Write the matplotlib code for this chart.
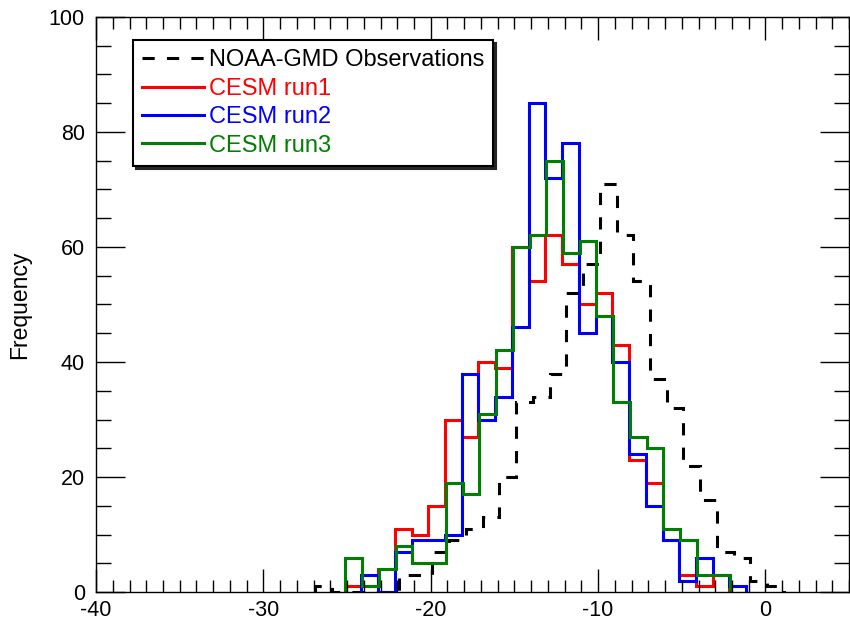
import numpy as np
import matplotlib
matplotlib.use("Agg")
import matplotlib.pyplot as plt
from matplotlib.ticker import MultipleLocator

plt.rcParams["font.family"] = ["Liberation Sans", "DejaVu Sans"]
plt.rcParams["axes.unicode_minus"] = False

# histogram counts, bin width 1; first left edge per series
obs_start = -26.9
obs_counts = [1, 0, 0, 0, 0, 3, 3, 7, 9, 11, 13, 20, 33, 34, 38, 52, 57,
              71, 62, 54, 37, 32, 22, 16, 7, 6, 2, 1]
run1_start = -25.15
run1_counts = [1, 1, 4, 11, 10, 15, 30, 27, 40, 39, 60, 54, 62, 57, 50, 52,
               43, 23, 19, 9, 3, 1, 3]
run2_start = -24.15
run2_counts = [3, 0, 7, 9, 9, 10, 38, 30, 34, 46, 85, 72, 78, 45, 48, 40,
               24, 15, 9, 2, 6, 3, 1]
run3_start = -25.1
run3_counts = [6, 1, 4, 8, 5, 5, 19, 17, 31, 42, 60, 62, 75, 59, 61, 48,
               33, 27, 25, 11, 9, 3, 3]

labels = ["NOAA-GMD Observations", "CESM run1", "CESM run2", "CESM run3"]

fig = plt.figure(figsize=(8.5, 6.22), dpi=100)
ax = fig.add_axes([0.113, 0.048, 0.886, 0.925])

lw = 2.2
series = [
    (obs_start, obs_counts, "black", (0, (4, 4))),
    (run1_start, run1_counts, "#ff0000", "-"),
    (run2_start, run2_counts, "#0000ff", "-"),
    (run3_start, run3_counts, "#008000", "-"),
]
handles = []
for (start, counts, color, ls), lab in zip(series, labels):
    edges = start + np.arange(len(counts) + 1)
    ax.stairs(counts, edges, color=color, linewidth=lw, linestyle=ls,
              baseline=0, label=lab)
    handles.append(plt.Line2D([], [], color=color, lw=lw, linestyle=ls))

ax.set_xlim(-40, 5)
ax.set_ylim(0, 100)
ax.xaxis.set_major_locator(MultipleLocator(10))
ax.xaxis.set_minor_locator(MultipleLocator(1))
ax.yaxis.set_major_locator(MultipleLocator(20))
ax.yaxis.set_minor_locator(MultipleLocator(5))

ax.tick_params(axis="both", which="both", direction="in", top=True, right=True,
               width=1.0, labelsize=15.5)
ax.tick_params(axis="x", which="major", length=16.5, pad=6)
ax.tick_params(axis="x", which="minor", length=8.8)
ax.tick_params(axis="y", which="major", length=21, pad=8)
ax.tick_params(axis="y", which="minor", length=10.5)
for sp in ax.spines.values():
    sp.set_linewidth(1.0)

ax.set_ylabel("Frequency", fontsize=16.5, labelpad=13)

leg = ax.legend(handles, labels, loc="upper left",
                bbox_to_anchor=(133 / 850, 1 - 40 / 622),
                bbox_transform=fig.transFigure,
                fontsize=17, frameon=True, fancybox=False, framealpha=1,
                edgecolor="black", shadow={"color": "0.15", "alpha": 1},
                handlelength=2.6, handletextpad=0.2, labelspacing=0.27,
                borderpad=0.4, labelcolor="linecolor", borderaxespad=0)
leg.get_frame().set_linewidth(1.5)

fig.savefig("out.png", dpi=100)
